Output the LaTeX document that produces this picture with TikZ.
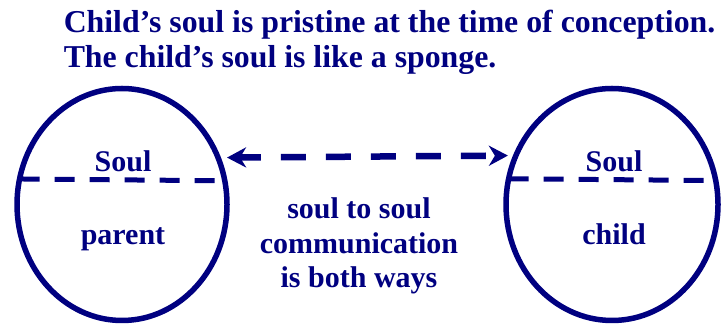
\documentclass[tikz,border=0pt]{standalone}
\usepackage{fontspec}
\setmainfont{Liberation Serif}[BoldFont={Liberation Serif Bold}]
\usetikzlibrary{arrows.meta,shapes.geometric,positioning}
\definecolor{soulblue}{RGB}{0,0,128}
\tikzset{every picture/.style={line width=5.5pt}}

\begin{document}
\begin{tikzpicture}[x=1pt,y=1pt,
    ring/.style={ellipse, draw=soulblue, minimum width=210pt, minimum height=232pt, inner sep=0pt, outer sep=0pt},
    words/.style={text=soulblue, font=\rmfamily\bfseries\fontsize{30}{34.5}\selectfont, inner sep=0pt},
    headline/.style={words, font=\rmfamily\bfseries\fontsize{31.8}{35}\selectfont, anchor=base west},
    divider/.style={draw=soulblue, line width=5pt, dash pattern=on 20pt off 15pt},
    twoway/.style={draw=soulblue, line width=6.5pt, dash pattern=on 25pt off 20pt, dash phase=3pt,
        {Stealth[length=19pt,width=20pt,inset=6pt]}-{Stealth[length=19pt,width=20pt,inset=6pt]}}]
    \useasboundingbox (0,0) rectangle (725,331);
    \node[headline] (title1) at (61,298) {Child’s soul is pristine at the time of conception.};
    \node[headline] (title2) at (61,263) {The child’s soul is like a sponge.};
    \node[ring] (parent) at (122,126.5) {};
    \node[ring, minimum width=212pt, right=279pt of parent] (child) {};
    \node[words, anchor=base] (soulparent) at (123,159) {Soul};
    \node[words, anchor=base] (soulchild) at (614,159) {Soul};
    \node[words, anchor=base] (parentname) at (123,86) {parent};
    \node[words, anchor=base] (childname) at (614,86) {child};
    \node[words, align=center] (message) at (359,85) {soul to soul\\communication\\is both ways};
    % dashed lines across each soul
    \draw[divider] (parent.166.3) -- (parent.13.7);
    \draw[divider] (child.166.3) -- (child.13.7);
    \draw[twoway, shorten <=9pt, shorten >=8pt] (parent.26.3) -- (child.153.7);
\end{tikzpicture}
\end{document}
